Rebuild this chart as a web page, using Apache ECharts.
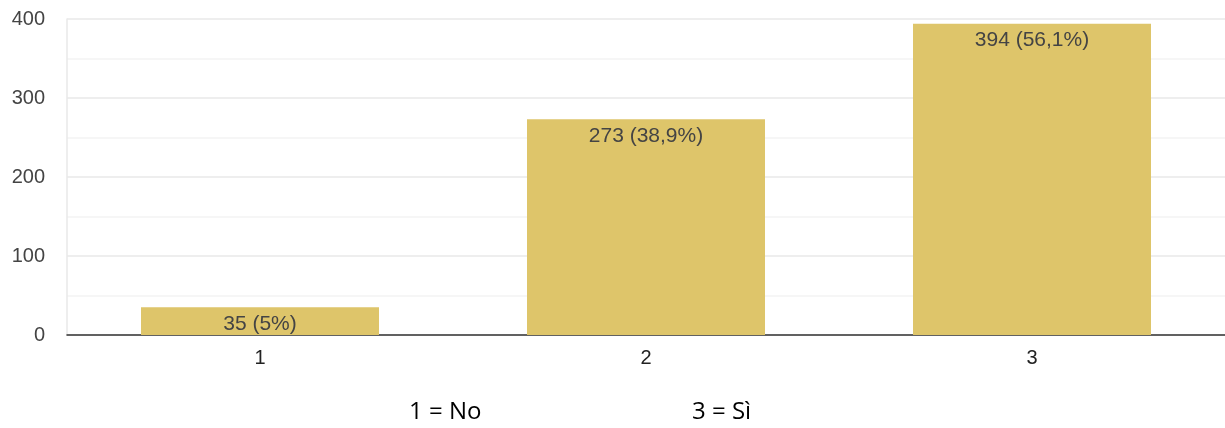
<!DOCTYPE html>
<html><head><meta charset="utf-8">
<script src="https://cdn.jsdelivr.net/npm/echarts@6/dist/echarts.min.js"></script>
<style>html,body{margin:0;padding:0;background:#fff}#c{width:1225px;height:428px}</style>
</head><body><div id="c"></div>
<script>
const categories = ['1', '2', '3'];
const values = [35, 273, 394];
const percents = ['5%', '38,9%', '56,1%'];
const yTicks = [0, 100, 200, 300, 400];
const notes = ['1 = No', '3 = Sì'];

const F = 'Liberation Sans';
const chart = echarts.init(document.getElementById('c'));
chart.setOption({
  animation: false,
  grid: { left: 67, right: 0, top: 19, bottom: 93 },
  xAxis: {
    type: 'category', data: categories,
    axisLine: { lineStyle: { color: '#333', width: 1.5 } },
    axisTick: { show: false },
    axisLabel: { color: '#222', fontSize: 20, fontFamily: F, margin: 13 }
  },
  yAxis: {
    type: 'value', min: yTicks[0], max: yTicks[yTicks.length - 1], interval: 100,
    axisLine: { show: true, lineStyle: { color: '#e8e8e8', width: 1.5 } },
    axisTick: { show: false },
    axisLabel: { color: '#444', fontSize: 20, fontFamily: F, margin: 22 },
    splitLine: { lineStyle: { color: '#e9e9e9', width: 1.5 } },
    minorTick: { show: false, splitNumber: 2 },
    minorSplitLine: { show: true, lineStyle: { color: '#f3f3f3', width: 1.5 } }
  },
  series: [{
    type: 'bar',
    data: values,
    barWidth: 238,
    itemStyle: { color: '#dec56a' },
    label: {
      show: true, position: 'insideTop', distance: 6,
      color: '#444', fontSize: 21, fontFamily: F,
      formatter: p => p.value + ' (' + percents[p.dataIndex] + ')'
    }
  }],
  graphic: [
    { type: 'text', left: 409, top: 400, style: { text: notes[0], fontSize: 24, fontFamily: 'Open Sans', fill: '#000' } },
    { type: 'text', left: 692, top: 400, style: { text: notes[1], fontSize: 24, fontFamily: 'Open Sans', fill: '#000' } }
  ]
});
</script></body></html>
